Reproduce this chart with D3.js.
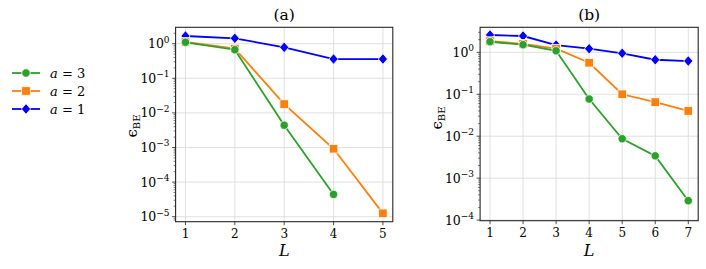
<!DOCTYPE html>
<html>
<head>
<meta charset="utf-8">
<script src="https://cdn.jsdelivr.net/npm/d3@7"></script>
<style>
  body { margin: 0; background: #fff; }
</style>
</head>
<body>
<script>
// values
var seriesNames = ["a = 3", "a = 2", "a = 1"]
var colors = ["#2ca02c", "#ff7f0e", "#0000ff"]
var markers = ["circle", "square", "diamond"]

var layersA = [1, 2, 3, 4, 5]
var a3_A = [1.1, 0.67, 0.0044, 4.4e-5]
var a2_A = [1.12, 0.72, 0.018, 0.00092, 1.25e-5]
var a1_A = [1.67, 1.43, 0.785, 0.36, 0.36]

var layersB = [1, 2, 3, 4, 5, 6, 7]
var a3_B = [1.79, 1.52, 1.09, 0.077, 0.0087, 0.0034, 0.00029]
var a2_B = [1.85, 1.6, 1.22, 0.565, 0.1, 0.065, 0.040]
var a1_B = [2.59, 2.45, 1.49, 1.22, 0.95, 0.666, 0.62]

var yTicksA = [0, -1, -2, -3, -4, -5]
var yTicksB = [0, -1, -2, -3, -4]

var width = 706, height = 269
var serif = "DejaVu Serif"

var svg = d3.select("body").append("svg")
	.attr("width", width)
	.attr("height", height)
	.attr("font-family", serif)
	.style("font-family", serif)

function marker(g, type, x, y, color) {
	var m
	if (type == "circle") {
		m = g.append("circle").attr("cx", x).attr("cy", y).attr("r", 4.2)
	} else if (type == "square") {
		m = g.append("rect").attr("x", x - 4.3).attr("y", y - 4.3).attr("width", 8.6).attr("height", 8.6)
	} else {
		m = g.append("path").attr("d", "M" + x + "," + (y - 5.3) + "L" + (x + 4.6) + "," + y + "L" + x + "," + (y + 5.3) + "L" + (x - 4.6) + "," + y + "Z")
	}
	m.attr("fill", color).attr("stroke", "#fff").attr("stroke-width", 0.8)
}

function panel(opt) {
	var x = d3.scaleLinear().domain(opt.xDomain).range([opt.left, opt.right])
	var y = d3.scaleLog().domain(opt.yDomain).range([opt.bottom, opt.top])
	var g = svg.append("g")

	// grid
	g.selectAll(".gx").data(opt.layers).enter().append("line")
		.attr("x1", d => x(d)).attr("x2", d => x(d))
		.attr("y1", opt.top).attr("y2", opt.bottom)
		.attr("stroke", "#dcdcdc").attr("stroke-width", 0.9)
	g.selectAll(".gy").data(opt.yTicks).enter().append("line")
		.attr("x1", opt.left).attr("x2", opt.right)
		.attr("y1", d => y(Math.pow(10, d))).attr("y2", d => y(Math.pow(10, d)))
		.attr("stroke", "#dcdcdc").attr("stroke-width", 0.9)

	// minor y ticks
	var lo = Math.floor(Math.log10(opt.yDomain[0])), hi = Math.ceil(Math.log10(opt.yDomain[1]))
	for (var e = lo; e < hi; e++) {
		for (var k = 2; k < 10; k++) {
			var v = k * Math.pow(10, e)
			if (v < opt.yDomain[0] || v > opt.yDomain[1]) continue
			g.append("line").attr("x1", opt.left - 2).attr("x2", opt.left)
				.attr("y1", y(v)).attr("y2", y(v)).attr("stroke", "#222").attr("stroke-width", 0.6)
		}
	}

	// lines and markers, drawn a=1 first so a=3 sits on top
	for (var s = opt.series.length - 1; s >= 0; s--) {
		var vals = opt.series[s]
		var pts = vals.map((v, i) => [x(opt.layers[i]), y(v)])
		g.append("path").attr("d", d3.line()(pts))
			.attr("fill", "none").attr("stroke", colors[s]).attr("stroke-width", 1.8)
		pts.forEach(p => marker(g, markers[s], p[0], p[1], colors[s]))
	}

	// frame
	g.append("rect").attr("x", opt.left).attr("y", opt.top)
		.attr("width", opt.right - opt.left).attr("height", opt.bottom - opt.top)
		.attr("fill", "none").attr("stroke", "#262626").attr("stroke-width", 1.1)

	// x ticks
	g.selectAll(".tx").data(opt.layers).enter().append("line")
		.attr("x1", d => x(d)).attr("x2", d => x(d))
		.attr("y1", opt.bottom).attr("y2", opt.bottom + 3.5)
		.attr("stroke", "#222").attr("stroke-width", 0.8)
	g.selectAll(".lx").data(opt.layers).enter().append("text")
		.attr("x", d => x(d)).attr("y", opt.bottom + 16)
		.attr("text-anchor", "middle").attr("font-size", 12)
		.text(d => d)

	// y ticks
	opt.yTicks.forEach(function(d) {
		var yy = y(Math.pow(10, d))
		g.append("line").attr("x1", opt.left - 3.5).attr("x2", opt.left)
			.attr("y1", yy).attr("y2", yy).attr("stroke", "#222").attr("stroke-width", 0.8)
		var t = g.append("text").attr("x", opt.left - 6).attr("y", yy + 4.5)
			.attr("text-anchor", "end").attr("font-size", 12.5)
		t.append("tspan").text("10")
		t.append("tspan").attr("dy", -5.5).attr("font-size", 9).text(d == 0 ? "0" : "\u2212" + (-d))
	})

	// titles and labels
	g.append("text").attr("x", (opt.left + opt.right) / 2).attr("y", 20)
		.attr("text-anchor", "middle").attr("font-size", 15.5).text(opt.title)
	g.append("text").attr("x", (opt.left + opt.right) / 2).attr("y", 256)
		.attr("text-anchor", "middle").attr("font-size", 16).attr("font-style", "italic").text("L")
	var yl = g.append("text")
		.attr("transform", "translate(" + opt.yLabelX + "," + opt.yLabelY + ") rotate(-90)")
		.attr("text-anchor", "middle").attr("font-size", 15)
	yl.append("tspan").text("\u03f5")
	yl.append("tspan").attr("dy", 3).attr("font-size", 10).text("BE")
}

panel({
	title: "(a)", layers: layersA, series: [a3_A, a2_A, a1_A],
	xDomain: [0.8, 5.2], left: 175.6, right: 392.8,
	yDomain: [Math.pow(10, -5.145), Math.pow(10, 0.474)], top: 27.3, bottom: 221.7,
	yTicks: yTicksA, yLabelX: 137, yLabelY: 126
})

panel({
	title: "(b)", layers: layersB, series: [a3_B, a2_B, a1_B],
	xDomain: [0.7, 7.3], left: 480.1, right: 698.2,
	yDomain: [Math.pow(10, -4.015), Math.pow(10, 0.597)], top: 27.3, bottom: 220.7,
	yTicks: yTicksB, yLabelX: 442, yLabelY: 118
})

// legend
var legend = svg.append("g")
seriesNames.forEach(function(name, i) {
	var ly = 73 + i * 18
	legend.append("line").attr("x1", 12).attr("x2", 40).attr("y1", ly).attr("y2", ly)
		.attr("stroke", colors[i]).attr("stroke-width", 1.8)
	marker(legend, markers[i], 26, ly, colors[i])
	var t = legend.append("text").attr("x", 50).attr("y", ly + 4.5).attr("font-size", 13)
	t.append("tspan").attr("font-style", "italic").text("a")
	t.append("tspan").text(" = " + name.split(" = ")[1])
})
</script>
</body>
</html>
